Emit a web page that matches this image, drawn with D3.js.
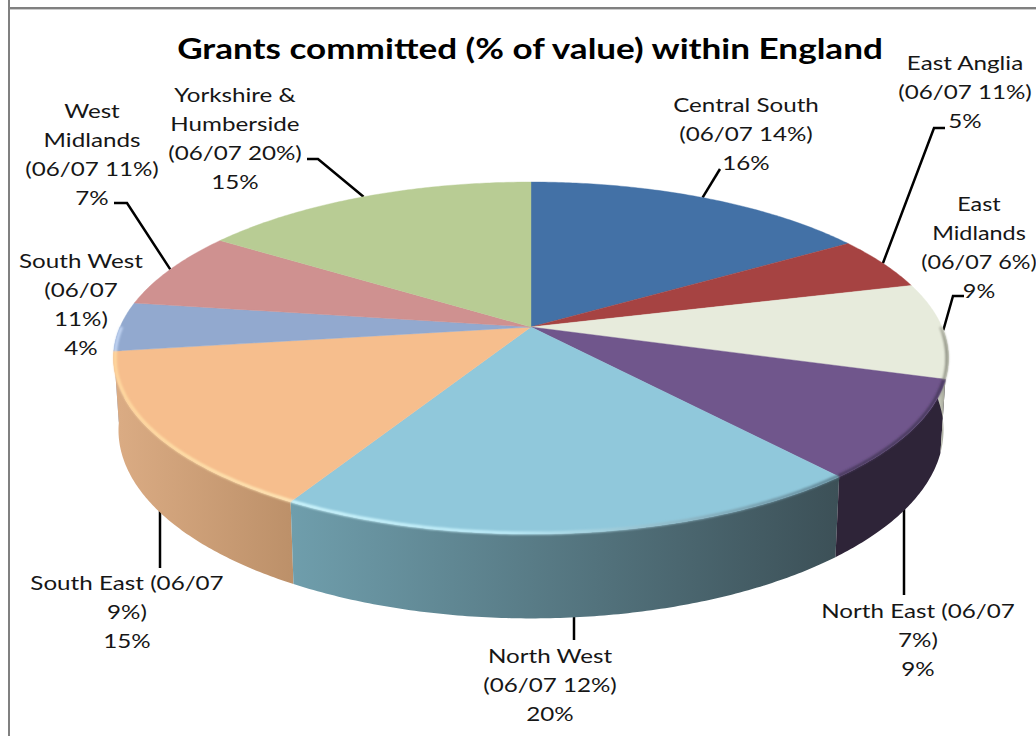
<!DOCTYPE html>
<html>
<head>
<meta charset="utf-8">
<script src="https://cdn.jsdelivr.net/npm/d3@7"></script>
<style>
body { margin: 0; background: #fff; overflow: hidden; }
text { font-family: Lato, "Open Sans", sans-serif; fill: #161616; }
</style>
</head>
<body>
<div id="chart"></div>
<script>
var title = "Grants committed (% of value) within England";

// share of grant value, starting at 12 o'clock, clockwise
var regions = ["Central South", "East Anglia", "East Midlands", "North East", "North West",
    "South East", "South West", "West Midlands", "Yorkshire & Humberside"];
var values = [16, 4.9, 8.8, 9.05, 19.5, 14.55, 4.5, 7.1, 15.6];
var labelLines = [
    ["Central South", "(06/07 14%)", "16%"],
    ["East Anglia", "(06/07 11%)", "5%"],
    ["East", "Midlands", "(06/07 6%)", "9%"],
    ["North East (06/07", "7%)", "9%"],
    ["North West", "(06/07 12%)", "20%"],
    ["South East (06/07", "9%)", "15%"],
    ["South West", "(06/07", "11%)", "4%"],
    ["West", "Midlands", "(06/07 11%)", "7%"],
    ["Yorkshire &", "Humberside", "(06/07 20%)", "15%"]
];

var topColors = ["#4371a6", "#a64342", "#e7ebdc", "#70568c", "#90c8db", "#f6be8d", "#92a9cf", "#cf9190", "#b8cc94"];
var wallLeft = ["#2e5078", "#7a3130", "#d2d5c6", "#2e2438", "#6f9eac", "#dbac84", "#92a9cf", "#cf9190", "#b8cc94"];
var wallRight = ["#2e5078", "#7a3130", "#8d8f82", "#2e2438", "#3c5057", "#bc9069", "#7f93b5", "#cf9190", "#b8cc94"];
var rimLeft = ["#4371a6", "#a64342", "#b9bbac", "#4a3a5e", "#d0f8ff", "#ffd9a0", "#c3d6f4", "#cf9190", "#b8cc94"];
var rimMid = ["#4371a6", "#a64342", "#a3a597", "#4a3a5e", "#c0eefa", "#ffe0a8", "#c3d6f4", "#cf9190", "#b8cc94"];
var rimRight = ["#4371a6", "#a64342", "#8d8f82", "#4a3a5e", "#5f8494", "#ffe8b8", "#c3d6f4", "#cf9190", "#b8cc94"];

// label placement: centre x, first baseline, horizontal stretch
var labelX = [746, 965, 979, 918, 550, 127, 81, 92, 235];
var labelY = [112, 70, 211, 618, 663, 590, 268, 118, 102];
var labelStretch = [1.21, 1.21, 1.17, 1.21, 1.21, 1.21, 1.21, 1.21, 1.21];
// elbow points of the leader lines, ends on the pie are worked out below
var leaderElbows = [
    [[720, 169]],
    [[945, 128], [934, 128]],
    [[964, 296], [953, 296]],
    [[904, 595]],
    [[574, 640]],
    [[160, 568]],
    [],
    [[114, 203], [127, 203]],
    [[307, 159], [318, 159]]
];
var leaderVertical = [false, false, false, true, true, true, false, false, false];

var width = 1036, height = 736;
var cx = 531, cy = 327;
var rx = 411, ry = 170.5, persp = 0.176;
var wallDrop = 70, wallScaleX = 0.988, wallScaleY = 1.07;
var pi = Math.PI;

var svg = d3.select("#chart").append("svg")
    .attr("width", width)
    .attr("height", height);

var defs = svg.append("defs");
defs.append("filter").attr("id", "soft")
    .attr("x", "-5%").attr("y", "-5%").attr("width", "110%").attr("height", "110%")
    .append("feGaussianBlur").attr("stdDeviation", 0.8);

// frame of the pasted spreadsheet chart
svg.append("rect").attr("x", 8).attr("y", 0).attr("width", 2).attr("height", height).attr("fill", "#808080");
svg.append("rect").attr("x", 8).attr("y", 7).attr("width", width - 8).attr("height", 2.4).attr("fill", "#808080");

svg.append("text")
    .attr("transform", "translate(530,59) scale(1.21,1)")
    .attr("text-anchor", "middle")
    .attr("font-size", 29)
    .attr("font-weight", 700)
    .style("fill", "#000")
    .text(title);

var slices = d3.pie().sort(null).startAngle(0).endAngle(2 * pi)(values);

// perspective projection of an angle on the pie rim
function topRim(t) {
    var X = Math.sin(t), Y = Math.cos(t), den = 1 + persp * Y;
    return [cx + rx * X / den, cy - ry * Y / den];
}
function bottomRim(t) {
    var X = Math.sin(t), Y = Math.cos(t), den = 1 + persp * Y;
    return [cx + wallScaleX * rx * X / den, cy + wallDrop - wallScaleY * ry * Y / den];
}
function samples(a, b) {
    var n = Math.max(2, Math.ceil((b - a) / 0.01));
    return d3.range(n + 1).map(function(i) { return a + (b - a) * i / n; });
}
var line = d3.line();

// leader lines, drawn first so that the walls hide their ends
slices.forEach(function(d, i) {
    if (!leaderElbows[i].length) return;
    var mid = (d.startAngle + d.endAngle) / 2;
    var front = leaderVertical[i];
    var end = front ? bottomRim(mid) : topRim(mid);
    var pts = leaderElbows[i].slice();
    if (front) {
        end = [pts[0][0], end[1] - 12];
    }
    pts.push(end);
    svg.append("path")
        .attr("d", line(pts))
        .attr("fill", "none")
        .attr("stroke", "#000")
        .attr("stroke-width", 2.5);
});

// side walls, only the front half of the rim. back to front so the
// left and right ends do not poke out over their neighbours
var walls = svg.append("g");
slices.slice().reverse().forEach(function(d) {
    var i = d.index;
    var a = Math.max(d.startAngle, pi / 2), b = Math.min(d.endAngle, 3 * pi / 2);
    if (a >= b) return;
    var ts = samples(a, b);
    var upper = ts.map(topRim);
    var lower = ts.map(bottomRim).reverse();
    var xs = upper.concat(lower).map(function(p) { return p[0]; });
    var gradId = "wall" + i;
    var grad = defs.append("linearGradient").attr("id", gradId)
        .attr("gradientUnits", "userSpaceOnUse")
        .attr("x1", d3.min(xs)).attr("x2", d3.max(xs)).attr("y1", 0).attr("y2", 0);
    grad.append("stop").attr("offset", 0).attr("stop-color", wallLeft[i]);
    grad.append("stop").attr("offset", 1).attr("stop-color", wallRight[i]);
    walls.append("path")
        .attr("d", line(upper.concat(lower)) + "Z")
        .attr("fill", "url(#" + gradId + ")");
});

// top face
var faces = svg.append("g");
slices.forEach(function(d, i) {
    var pts = [[cx, cy]].concat(samples(d.startAngle, d.endAngle).map(topRim));
    faces.append("path")
        .attr("d", line(pts) + "Z")
        .attr("fill", topColors[i])
        .attr("stroke", topColors[i])
        .attr("stroke-width", 0.4);
});

// bevel light along the front rim
var bevel = svg.append("g").attr("filter", "url(#soft)");
slices.forEach(function(d, i) {
    var a = Math.max(d.startAngle, pi / 2), b = Math.min(d.endAngle, 3 * pi / 2);
    if (a >= b) return;
    var pts = samples(a, b).map(function(t) {
        var p = topRim(t);
        return [cx + (p[0] - cx) * 0.996, cy + (p[1] - cy) * 0.996];
    });
    var xs = pts.map(function(p) { return p[0]; });
    var gradId = "bevel" + i;
    var grad = defs.append("linearGradient").attr("id", gradId)
        .attr("gradientUnits", "userSpaceOnUse")
        .attr("x1", d3.min(xs)).attr("x2", d3.max(xs)).attr("y1", 0).attr("y2", 0);
    grad.append("stop").attr("offset", 0).attr("stop-color", rimLeft[i]);
    grad.append("stop").attr("offset", 0.4).attr("stop-color", rimMid[i]);
    grad.append("stop").attr("offset", 1).attr("stop-color", rimRight[i]);
    bevel.append("path")
        .attr("d", line(pts))
        .attr("fill", "none")
        .attr("stroke", "url(#" + gradId + ")")
        .attr("stroke-width", 3);
});

// data labels
slices.forEach(function(d, i) {
    var t = svg.append("text")
        .attr("transform", "translate(" + labelX[i] + ",0) scale(" + labelStretch[i] + ",1)")
        .attr("text-anchor", "middle")
        .attr("font-size", 20);
    labelLines[i].forEach(function(s, j) {
        t.append("tspan")
            .attr("x", 0)
            .attr("y", labelY[i] + j * 29)
            .text(s);
    });
});
</script>
</body>
</html>
